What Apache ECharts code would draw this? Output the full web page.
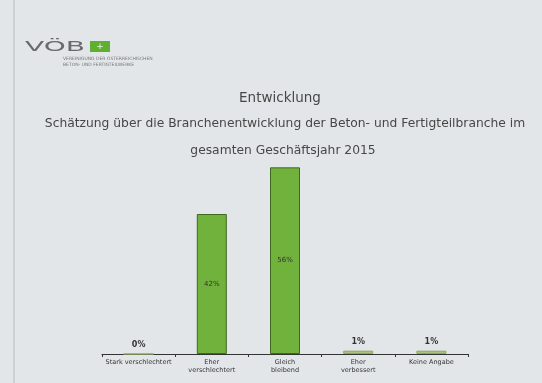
<!DOCTYPE html>
<html><head><meta charset="utf-8">
<script src="https://cdn.jsdelivr.net/npm/echarts@6/dist/echarts.min.js"></script>
<style>html,body{margin:0;padding:0;background:#e3e6e9}#c{width:542px;height:383px}</style>
</head><body><div id="c"></div>
<script>
const categories = ["Stark verschlechtert", "Eher\nverschlechtert", "Gleich\nbleibend", "Eher\nverbessert", "Keine Angabe"];
const values = [0, 42, 56, 1, 1];
const labelText = ["0%", "42%", "56%", "1%", "1%"];
const titleText = "Entwicklung";
const subLine1 = "Schätzung über die Branchenentwicklung der Beton- und Fertigteilbranche im";
const subLine2 = "gesamten Geschäftsjahr 2015";

const chart = echarts.init(document.getElementById('c'));
const tFont = {fontFamily: 'DejaVu Sans', fill: '#474747'};
chart.setOption({
  backgroundColor: '#e3e6e9',
  animation: false,
  grid: {left: 102, right: 74, top: 154, bottom: 29},
  xAxis: {
    type: 'category', data: categories,
    axisLine: {lineStyle: {color: '#333', width: 1}},
    axisTick: {show: true, length: 3, lineStyle: {color: '#333'}},
    axisLabel: {fontSize: 6.5, color: '#333', fontFamily: 'DejaVu Sans', lineHeight: 8, margin: 4, interval: 0}
  },
  yAxis: {type: 'value', min: 0, max: 60, show: false},
  series: [{
    type: 'bar', barWidth: 30,
    data: values.map((v, i) => ({
      value: v,
      itemStyle: v > 10 ? undefined : {color: '#a9c27e', borderColor: '#8aa860'},
      label: {
        show: true,
        position: v > 10 ? 'inside' : 'top',
        formatter: labelText[i],
        fontSize: v > 10 ? 7 : 8,
        fontWeight: v > 10 ? 'normal' : 'bold',
        color: '#333',
        fontFamily: 'DejaVu Sans'
      }
    })),
    itemStyle: {color: '#70b23c', borderColor: '#3d6a1f', borderWidth: 1}
  }],
  graphic: [
    {type: 'line', shape: {x1: 14, y1: 0, x2: 14, y2: 383}, style: {stroke: '#bbb', lineWidth: 1}},
    {type: 'text', x: 280, y: 98, style: Object.assign({text: titleText, fontSize: 13.5, align: 'center', verticalAlign: 'middle'}, tFont)},
    {type: 'text', x: 285, y: 124, style: Object.assign({text: subLine1, fontSize: 12.3, align: 'center', verticalAlign: 'middle'}, tFont)},
    {type: 'text', x: 283, y: 151, style: Object.assign({text: subLine2, fontSize: 12.3, align: 'center', verticalAlign: 'middle'}, tFont)},
    {type: 'text', x: 25, y: 40, scaleX: 2.0, style: {text: 'VÖB', fontSize: 14, fontFamily: 'DejaVu Sans', fill: '#6a6a6a', verticalAlign: 'top'}},
    {type: 'rect', shape: {x: 90, y: 41, width: 20, height: 11}, style: {fill: '#5fb030'}},
    {type: 'text', x: 100, y: 46.5, style: {text: '+', fontSize: 9, fill: '#e8f5d8', fontFamily: 'DejaVu Sans', align: 'center', verticalAlign: 'middle'}},
    {type: 'text', x: 63, y: 56, style: {text: 'VEREINIGUNG DER ÖSTERREICHISCHEN\nBETON- UND FERTIGTEILWERKE', fontSize: 4.5, fill: '#777', fontFamily: 'DejaVu Sans', lineHeight: 6, verticalAlign: 'top'}}
  ]
});
</script></body></html>
